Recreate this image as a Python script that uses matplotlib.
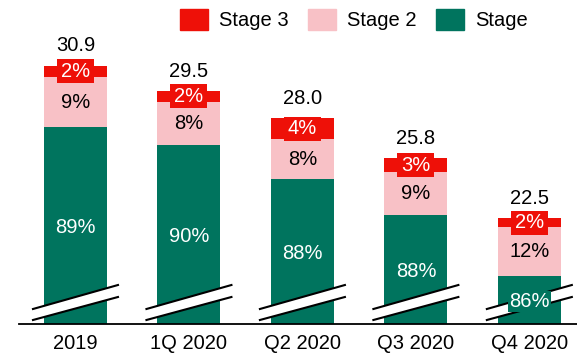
import matplotlib
matplotlib.use("Agg")
import matplotlib.pyplot as plt
import matplotlib.transforms as mtransforms
from matplotlib.patches import Rectangle, Polygon
from matplotlib.lines import Line2D

plt.rcParams['font.family'] = ['Liberation Sans', 'DejaVu Sans']

# Loan book totals and stage mix (%)
periods = ["2019", "1Q 2020", "Q2 2020", "Q3 2020", "Q4 2020"]
totals = [30.9, 29.5, 28.0, 25.8, 22.5]
stage1_pct = [89, 90, 88, 88, 86]
stage2_pct = [9, 8, 8, 9, 12]
stage3_pct = [2, 2, 4, 3, 2]
legend_labels = ["Stage 3", "Stage 2", "Stage"]

RED = "#EE1008"
PINK = "#F8C1C6"
GREEN = "#00745E"
FS = 14.5

W, H = 577, 354
fig = plt.figure(figsize=(W / 100, H / 100), dpi=100)
left_px, bottom_px = 18.75, 30
ax = fig.add_axes([left_px / W, bottom_px / H, (W - left_px) / W, (H - bottom_px) / H])

y_floor = 16.7
ax.set_ylim(y_floor, 34.5)
ax.set_xlim(-0.5, 4.42)

x = list(range(len(periods)))
bw = 0.555
s1 = [t * p / 100 for t, p in zip(totals, stage1_pct)]
s2 = [t * p / 100 for t, p in zip(totals, stage2_pct)]
s3 = [t * p / 100 for t, p in zip(totals, stage3_pct)]

ax.bar(x, s1, bw, color=GREEN, zorder=2)
ax.bar(x, s2, bw, bottom=s1, color=PINK, zorder=2)
ax.bar(x, s3, bw, bottom=[a + b for a, b in zip(s1, s2)], color=RED, zorder=2)

for i in x:
    # axis-break marks (drawn in inches relative to the bar's foot)
    tr = fig.dpi_scale_trans + mtransforms.ScaledTranslation(i, y_floor, ax.transData)
    up = [(-0.425, 0.15), (0.425, 0.39)]
    lo = [(-0.425, 0.04), (0.425, 0.27)]
    ax.add_patch(Polygon(up + lo[::-1], closed=True, facecolor="white",
                         edgecolor="none", transform=tr, zorder=3, clip_on=False))
    for seg in (up, lo):
        ax.add_line(Line2D([seg[0][0], seg[1][0]], [seg[0][1], seg[1][1]],
                           color="black", lw=1.5, transform=tr, zorder=4,
                           clip_on=False))

    # stage 1 label in the visible part of the green bar
    ax.text(i, (y_floor + s1[i]) / 2 - 0.1, f"{stage1_pct[i]}%", ha="center", va="center",
            color="white", fontsize=FS, zorder=6,
            bbox=dict(boxstyle="square,pad=0.05", facecolor=GREEN, edgecolor="none"))
    # stage 2 label
    ax.text(i, s1[i] + s2[i] / 2, f"{stage2_pct[i]}%", ha="center", va="center",
            color="black", fontsize=FS, zorder=6)
    # stage 3 label on a red tab
    yc = s1[i] + s2[i] + s3[i] / 2
    trc = fig.dpi_scale_trans + mtransforms.ScaledTranslation(i, yc, ax.transData)
    ax.add_patch(Rectangle((-0.185, -0.12), 0.37, 0.24, facecolor=RED,
                           edgecolor="none", transform=trc, zorder=5, clip_on=False))
    ax.text(i, yc, f"{stage3_pct[i]}%", ha="center", va="center",
            color="white", fontsize=FS, zorder=6)
    # total
    ax.annotate(f"{totals[i]:.1f}", (i, totals[i]), xytext=(0, 7.5),
                textcoords="offset points", ha="center", va="bottom",
                fontsize=FS, color="black")

ax.set_xticks(x)
ax.set_xticklabels(periods, fontsize=FS)
ax.tick_params(axis="x", length=0, pad=7)
ax.set_yticks([])
for s in ("left", "right", "top"):
    ax.spines[s].set_visible(False)
ax.spines["bottom"].set_linewidth(1.3)
ax.spines["bottom"].set_zorder(7)

handles = [Rectangle((0, 0), 1, 1, color=c) for c in (RED, PINK, GREEN)]
fig.legend(handles, legend_labels, ncol=3, frameon=False, fontsize=FS,
           loc="upper left", bbox_to_anchor=(180 / W, 1 - 9 / H),
           handlelength=1.4, handleheight=1.2, handletextpad=0.55,
           columnspacing=0.95, borderpad=0, borderaxespad=0)

fig.savefig("out.png", dpi=100)
